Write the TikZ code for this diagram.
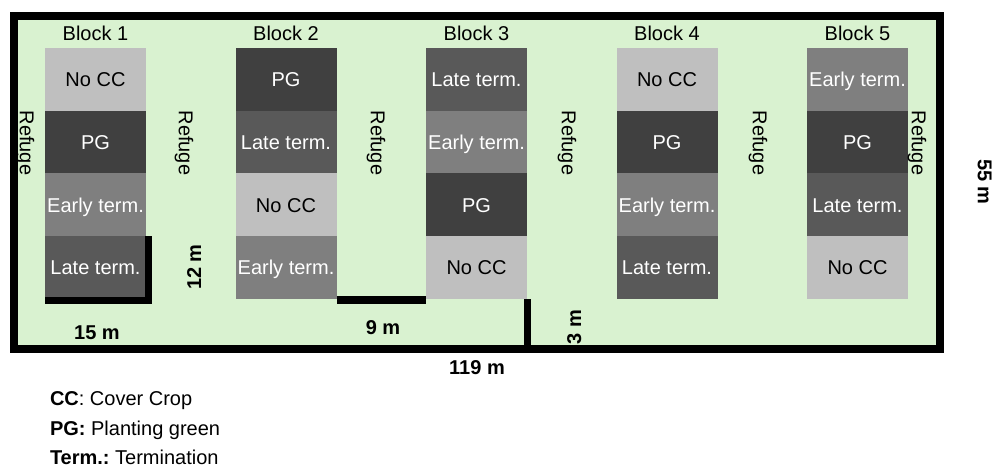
\documentclass[tikz,border=0pt]{standalone}
\usepackage{fontspec}
\setmainfont{Liberation Sans}
\frenchspacing
\definecolor{fieldgreen}{HTML}{D9F2D0}
\definecolor{nocc}{HTML}{BFBFBF}
\definecolor{pgc}{HTML}{404040}
\definecolor{latec}{HTML}{595959}
\definecolor{earlyc}{HTML}{7F7F7F}
\begin{document}
\begin{tikzpicture}[x=1pt,y=-1pt,
  font=\fontsize{20}{24}\selectfont,
  txt/.style={inner sep=0pt, outer sep=0pt, text height=14.3pt, text depth=0pt},
  cell/.style={txt, anchor=north west, minimum width=101pt, minimum height=62.75pt},
  NoCC/.style={cell, fill=nocc, text=black},
  PG/.style={cell, fill=pgc, text=white},
  Late/.style={cell, fill=latec, text=white},
  Early/.style={cell, fill=earlyc, text=white},
  refuge/.style={txt, rotate=-90},
  dimlab/.style={txt, font=\fontsize{20}{24}\selectfont\bfseries},
  bar/.style={draw=black, line width=7pt, line join=miter},
  field/.style={draw=black, line width=8pt, fill=fieldgreen, inner sep=0pt, outer sep=0pt,
    minimum width=926pt, minimum height=333pt}
]
\useasboundingbox (0,0) rectangle (999,468);
\node[field] (field) at (477,182.5) {};

% plots
\foreach \k/\r/\s/\t in {
  1/1/NoCC/No CC, 1/2/PG/PG, 1/3/Early/Early term., 1/4/Late/Late term.,
  2/1/PG/PG, 2/2/Late/Late term., 2/3/NoCC/No CC, 2/4/Early/Early term.,
  3/1/Late/Late term., 3/2/Early/Early term., 3/3/PG/PG, 3/4/NoCC/No CC,
  4/1/NoCC/No CC, 4/2/PG/PG, 4/3/Early/Early term., 4/4/Late/Late term.,
  5/1/Early/Early term., 5/2/PG/PG, 5/3/Late/Late term., 5/4/NoCC/No CC}
  \node[\s] (b\k r\r) at ({45+(\k-1)*190.5},{48+(\r-1)*62.75}) {\t};

% block titles
\foreach \k in {1,...,5}
  \node[txt] (blk\k) at ({95.5+(\k-1)*190.5},33) {Block \k};

% refuges
\foreach \i/\x in {1/27,2/186,3/378,4/569,5/760,6/919}
  \node[refuge] (ref\i) at (\x,143) {Refuge};

% dimension bars
\draw[bar] ([yshift=-1pt]b1r4.south west) -- ([xshift=2pt,yshift=-1pt]b1r4.south east)
  -- ([xshift=2pt]b1r4.north east);
\draw[bar, line width=8pt] ([yshift=-1pt]b2r4.south east) -- ([yshift=-1pt]b3r4.south west);
\draw[bar] ([xshift=0.5pt]b3r4.south east) -- ([xshift=0.5pt]b3r4.south east |- field.south);

% dimension labels
\node[dimlab] (d15) at (97,332) {15 m};
\node[dimlab, rotate=90] (d12) at (194,267) {12 m};
\node[dimlab] (d9) at (383,327) {9 m};
\node[dimlab, rotate=90] (d3) at (574,327) {3 m};
\node[dimlab] (d119) at (477,367) {119 m};
\node[dimlab, rotate=-90] (d55) at (985,182) {55 m};

% legend
\node[txt, anchor=west] (leg1) at (50,398) {\textbf{CC}: Cover Crop};
\node[txt, anchor=west] (leg2) at (50,428) {\textbf{PG:} Planting green};
\node[txt, anchor=west] (leg3) at (50,457) {\textbf{Term.:} Termination};
\end{tikzpicture}
\end{document}
